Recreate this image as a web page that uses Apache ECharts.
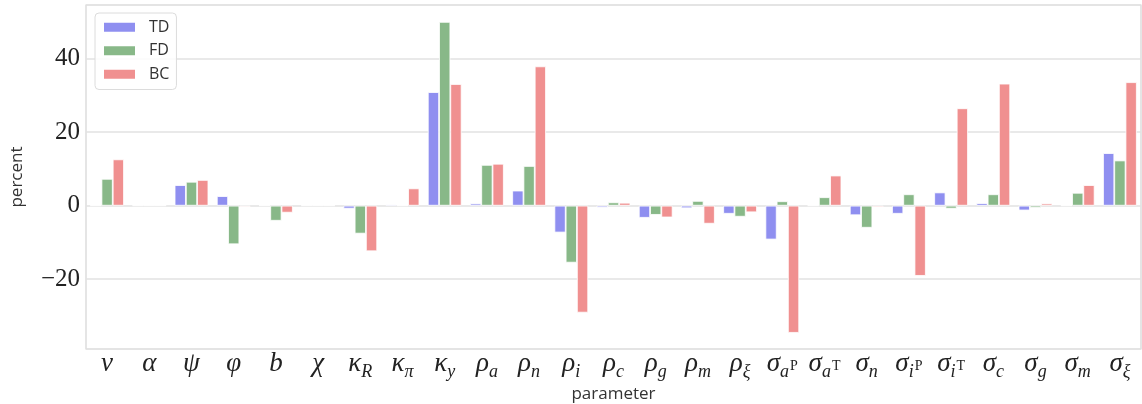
<!DOCTYPE html>
<html>
<head>
<meta charset="utf-8">
<script src="https://cdn.jsdelivr.net/npm/echarts@6/dist/echarts.min.js"></script>
<style>
  html, body { margin: 0; padding: 0; background: #fff; }
  #chart { width: 1142px; height: 404px; }
</style>
</head>
<body>
<div id="chart"></div>
<script>
// Parameter names: "_" starts a subscript, "^" a superscript inside it.
const categories = ['ν', 'α', 'ψ', 'φ', 'b', 'χ', 'κ_R', 'κ_π', 'κ_y', 'ρ_a', 'ρ_n', 'ρ_i', 'ρ_c', 'ρ_g', 'ρ_m', 'ρ_ξ',
  'σ_a^P', 'σ_a^T', 'σ_n', 'σ_i^P', 'σ_i^T', 'σ_c', 'σ_g', 'σ_m', 'σ_ξ'];

// Percent change for each parameter
const tdValues = [0, 0, 5.6, 2.6, 0, 0, -0.8, 0.3, 30.9, 0.6, 4.1, -7.3, -0.5, -3.3, -0.7, -2.2,
  -9.2, 0, -2.6, -2.2, 3.6, 0.7, -1.3, 0, 14.3];
const fdValues = [7.3, 0, 6.5, -10.5, -4.1, 0, -7.6, 0, 50.0, 11.1, 10.8, -15.5, 0.9, -2.5, 1.3, -3.0,
  1.2, 2.3, -6.0, 3.1, -0.8, 3.1, -0.6, 3.5, 12.3];
const bcValues = [12.6, 0, 7.0, -0.3, -1.9, 0, -12.4, 4.7, 33.1, 11.4, 37.9, -29.1, 0.8, -3.2, -4.9, -1.8,
  -34.6, 8.2, -0.4, -19.1, 26.5, 33.2, 0.6, 5.6, 33.6];

const seriesNames = ['TD', 'FD', 'BC'];
const seriesColors = ['#8f8ff0', '#88b888', '#f09090'];

const serif = '"Liberation Serif", "DejaVu Serif", serif';
const sans = '"Open Sans", "Noto Sans", sans-serif';

function mathLabel(name) {
  const [base, rest] = name.split('_');
  let out = '{m|' + base + '}';
  if (rest) {
    const [sub, sup] = rest.split('^');
    out += '{s|' + sub + '}';
    if (sup) out += '{ss|' + sup + '}';
  }
  return out;
}

const chart = echarts.init(document.getElementById('chart'), null, { renderer: 'canvas' });

const series = [tdValues, fdValues, bcValues].map((vals, i) => ({
  name: seriesNames[i],
  type: 'bar',
  data: vals,
  barWidth: 11.25,
  barGap: '0%',
  itemStyle: { color: seriesColors[i], borderColor: '#ffffff', borderWidth: 0.8 },
  emphasis: { disabled: true }
}));

chart.setOption({
  animation: false,
  backgroundColor: '#ffffff',
  grid: {
    left: 86, top: 5, width: 1055, height: 344,
    outerBoundsMode: 'none',
    containLabel: false,
    show: true, borderColor: '#d4d4d4', borderWidth: 1.2, backgroundColor: 'transparent'
  },
  legend: {
    orient: 'vertical',
    left: 95, top: 13,
    padding: [6, 7, 7, 7],
    itemWidth: 33, itemHeight: 11, itemGap: 7,
    icon: 'rect',
    backgroundColor: 'rgba(255,255,255,0.85)',
    borderColor: '#dcdcdc', borderWidth: 1, borderRadius: 4,
    textStyle: { fontFamily: sans, fontSize: 16, lineHeight: 16.5, color: '#333', padding: [0, 0, 0, 8] },
    data: seriesNames
  },
  xAxis: {
    type: 'category',
    data: categories,
    name: 'parameter',
    nameLocation: 'middle',
    nameGap: 37,
    nameMoveOverlap: false,
    nameTextStyle: { fontFamily: sans, fontSize: 17, color: '#333' },
    axisLine: { show: false },
    axisTick: { show: false },
    axisLabel: {
      interval: 0,
      margin: 6,
      formatter: mathLabel,
      rich: {
        m: { fontFamily: serif, fontStyle: 'italic', fontSize: 27, color: '#222', lineHeight: 28, padding: [0, 0, 10, 0] },
        s: { fontFamily: serif, fontStyle: 'italic', fontSize: 18, color: '#222', lineHeight: 18, padding: [13, 0, 7, 0] },
        ss: { fontFamily: serif, fontSize: 14, color: '#222', lineHeight: 14, padding: [9, 0, 15, 1] }
      }
    },
    splitLine: { show: false }
  },
  yAxis: {
    type: 'value',
    min: -39.0,
    max: 54.6,
    splitNumber: 4,
    name: 'percent',
    nameLocation: 'middle',
    nameGap: 60,
    nameMoveOverlap: false,
    nameTextStyle: { fontFamily: sans, fontSize: 17, color: '#333' },
    axisLine: { show: false },
    axisTick: { show: false },
    axisLabel: {
      margin: 6,
      fontFamily: serif,
      fontSize: 25,
      color: '#222',
      formatter: v => (Math.abs(v % 20) < 1e-9 ? (v < 0 ? '\u2212' + Math.abs(v) : String(v)) : '')
    },
    splitLine: { lineStyle: { color: '#e2e2e2', width: 1.5 } }
  },
  series: series
});
</script>
</body>
</html>
